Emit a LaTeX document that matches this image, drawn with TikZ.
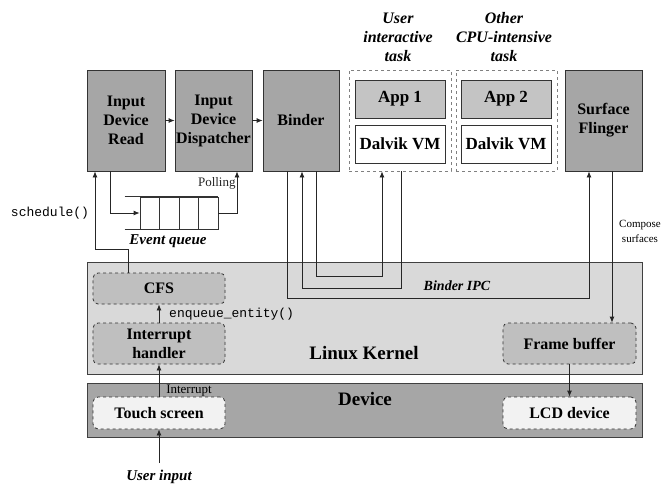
\documentclass[tikz,border=0pt]{standalone}
\usepackage{fontspec}
\setmainfont{Liberation Serif}
\setmonofont{Liberation Mono}
\usetikzlibrary{arrows.meta,calc}

\definecolor{procgray}{HTML}{A6A6A6}
\definecolor{kernelgray}{HTML}{D9D9D9}
\definecolor{innergray}{HTML}{BFBFBF}
\definecolor{appgray}{HTML}{C4C4C4}
\definecolor{hwfill}{HTML}{F2F2F2}

\tikzset{
  proc/.style={draw=black!80, fill=procgray, line width=0.8pt, inner sep=0pt,
    align=center, font=\fontsize{16}{19}\selectfont\bfseries},
  appbox/.style={draw=black!80, line width=0.8pt, inner sep=0pt,
    minimum width=90pt, minimum height=38pt, font=\fontsize{17}{20}\selectfont\bfseries},
  taskgrp/.style={draw=black!50, dashed, line width=0.8pt, inner sep=0pt,
    minimum height=101pt},
  layer/.style={draw=black!75, line width=0.8pt, inner sep=0pt, minimum width=555pt},
  kbox/.style={draw=black!80, dashed, rounded corners=5pt, line width=0.8pt,
    inner sep=0pt, minimum width=132pt, align=center,
    font=\fontsize{16}{19}\selectfont\bfseries},
  arr/.style={-{Latex[length=6pt,width=5pt]}, line width=0.8pt, black!85},
  note/.style={font=\fontsize{13}{15}\selectfont, inner sep=1pt},
  tasklabel/.style={align=center, font=\fontsize{16}{19}\selectfont\bfseries\itshape}
}

\begin{document}
\begin{tikzpicture}[x=1pt,y=-1pt]
\useasboundingbox (0,0) rectangle (670,483);

% Kernel and device layers
\node[layer, fill=kernelgray, minimum height=112pt] (kernel) at (364.5,318) {};
\node[layer, fill=procgray, minimum height=54pt] (device) at (364.5,410) {};
\node[font=\fontsize{19}{22}\selectfont\bfseries] (kernlabel) at (364,353) {Linux Kernel};
\node[font=\fontsize{19}{22}\selectfont\bfseries] (devlabel) at (365,399) {Device};

% User space processes
\node[proc, minimum width=78pt, minimum height=101pt] (read) at (126,120.5) {Input\\Device\\Read};
\node[proc, minimum width=77pt, minimum height=101pt] (disp) at (213.5,120.5) {Input\\Device\\Dispatcher};
\node[proc, minimum width=76pt, minimum height=101pt] (binder) at (301,120.5) {Binder};
\node[proc, minimum width=77pt, minimum height=101pt] (sf) at (603.5,120.5) {Surface\\Flinger};

% Application groups
\node[taskgrp, minimum width=102pt] (grp1) at (400,120.5) {};
\node[appbox, fill=appgray] (app1) at (400,99) {App 1};
\node[appbox, fill=white] (dvm1) at (400,144) {Dalvik VM};
\node[taskgrp, minimum width=101pt] (grp2) at (506.5,120.5) {};
\node[appbox, fill=appgray] (app2) at (506,99) {App 2};
\node[appbox, fill=white] (dvm2) at (506,144) {Dalvik VM};
\node[tasklabel] (task1) at (398,37) {User\\interactive\\task};
\node[tasklabel] (task2) at (504,37) {Other\\CPU-intensive\\task};

% Event queue
\node[draw=black!80, line width=0.8pt, minimum width=78pt, minimum height=32pt, inner sep=0pt] (queue) at (179,213) {};
\foreach \k in {1,2,3}
  \draw[line width=0.8pt, black!80] ($(queue.north west)!\k/4!(queue.north east)$) -- ($(queue.south west)!\k/4!(queue.south east)$);
\draw[line width=1.6pt, black!80] ([xshift=-15pt]queue.north west) -- (queue.north east);
\draw[line width=1.6pt, black!80] ([xshift=-15pt]queue.south west) -- (queue.south east);
\node[font=\fontsize{15}{17}\selectfont\bfseries\itshape] (qlabel) at (168,241) {Event queue};

% Kernel and device boxes
\node[kbox, fill=innergray, minimum height=31pt] (cfs) at (159,288.5) {CFS};
\node[kbox, fill=innergray, minimum height=41pt] (intr) at (159,343.5) {Interrupt\\handler};
\node[kbox, fill=hwfill, minimum height=32pt] (touch) at (159,413) {Touch screen};
\node[kbox, fill=innergray, minimum height=41pt, minimum width=133pt] (fb) at (569.5,343.5) {Frame buffer};
\node[kbox, fill=hwfill, minimum height=32pt, minimum width=133pt] (lcd) at (569.5,413) {LCD device};

% Input path
\draw[arr] (read) -- (disp);
\draw[arr] (disp) -- (binder);
\draw[arr] ([xshift=-16pt]read.south) |- (queue.west);
\draw[arr] (queue.east) -| ([xshift=23.5pt]disp.south) node[note, pos=0.86, left] {Polling};
\draw[arr] ([xshift=-31pt]cfs.north) -- ++(0,-23) -| ([xshift=-31pt]read.south);
\node[note, font=\fontsize{13}{15}\selectfont\ttfamily] (sched) at (50,213) {schedule()};
\draw[arr] (intr) -- (cfs);
\node[note, font=\fontsize{13}{15}\selectfont\ttfamily, anchor=west] (enq) at (168,314) {enqueue\_entity()};
\draw[arr] (touch) -- (intr);
\node[note] (irq) at (189,391) {Interrupt};
\coordinate (uin) at (159,463);
\draw[arr] (uin) -- (touch);
\node[font=\fontsize{15}{17}\selectfont\bfseries\itshape] (uinlabel) at (159,477) {User input};

% Binder IPC
\draw[arr] ([xshift=15pt]binder.south) -- ++(0,105) -| ([xshift=-18pt]grp1.south);
\draw[arr] ([xshift=1pt]grp1.south) -- ++(0,117) -| ([xshift=1pt]binder.south);
\draw[arr] ([xshift=-14pt]binder.south) -- ++(0,127) -| ([xshift=-14.5pt]sf.south);
\node[font=\fontsize{14}{16}\selectfont\bfseries\itshape] (ipc) at (457,286) {Binder IPC};

% Output path
\draw[arr] ([xshift=8.5pt]sf.south) -- ([xshift=8.5pt]sf.south |- fb.north);
\node[note, align=center, font=\fontsize{11}{15}\selectfont] (compose) at (640,231) {Compose\\surfaces};
\draw[arr] (fb) -- (lcd);
\end{tikzpicture}
\end{document}
